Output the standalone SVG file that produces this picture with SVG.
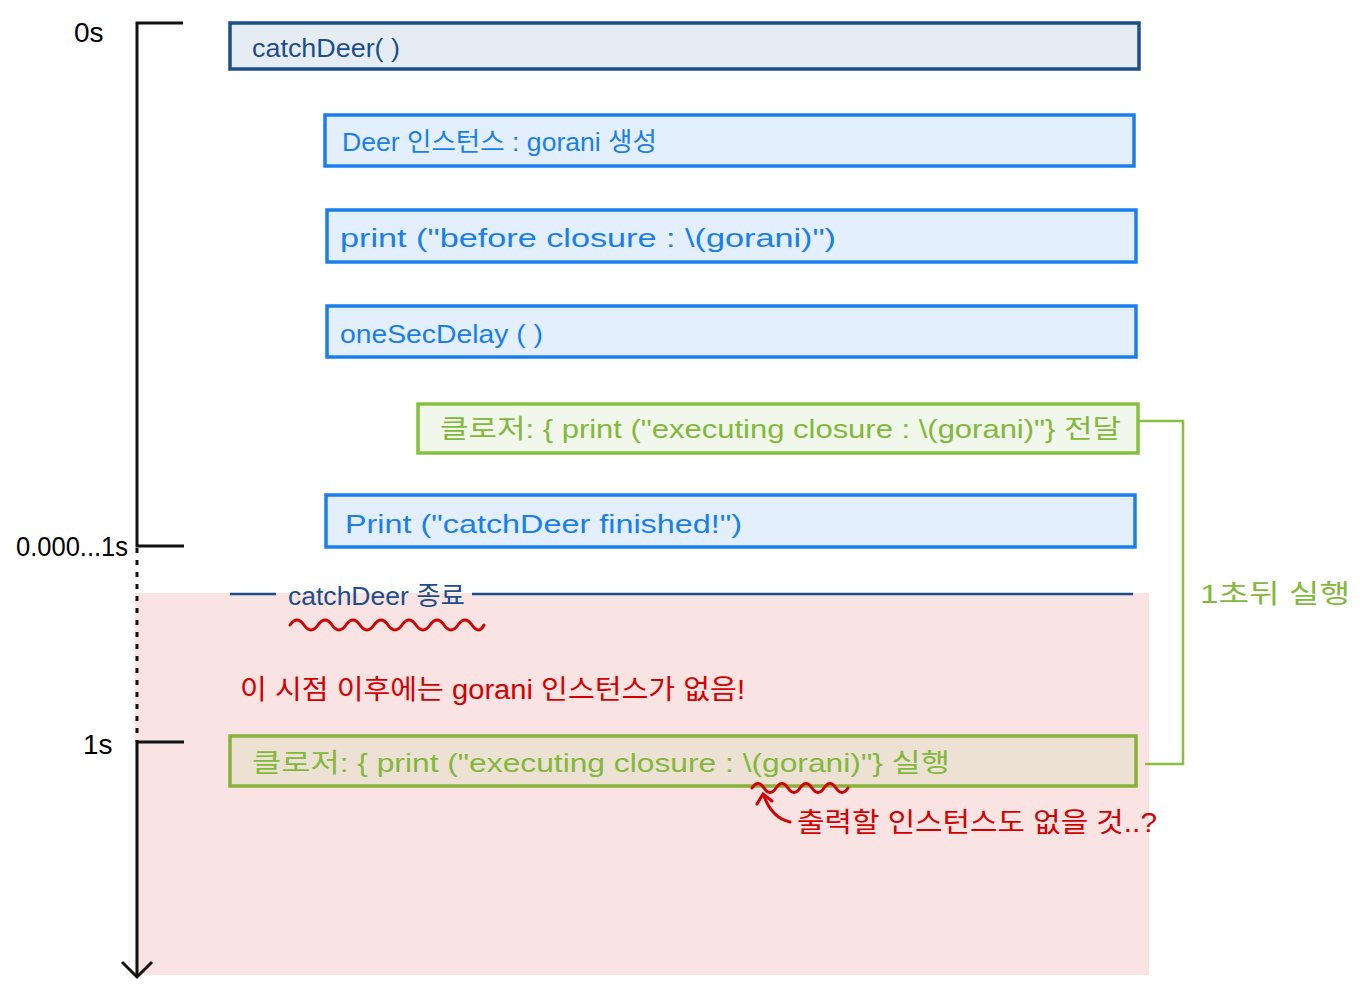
<svg xmlns="http://www.w3.org/2000/svg" width="1360" height="1000" viewBox="0 0 1360 1000">
<defs>
<style>
text{font-family:"Liberation Sans","Noto Sans CJK KR",sans-serif;}
.dk{fill:#e6ecf4;stroke:#1d4e89;stroke-width:3.5;}
.bl{fill:#e3effc;stroke:#1a7fec;stroke-width:3.5;}
.gr{fill:#f1f7ea;stroke:#86c03f;stroke-width:3.5;}
.gr2{fill:#ede1d4;stroke:#88b23a;stroke-width:3.5;}
.tdk{fill:#1d4e89;font-size:26px;}
.tbl{fill:#1a7fec;font-size:26px;}
.tgr{fill:#82b83c;font-size:26px;}
.trd{fill:#d40000;font-size:27px;}
.tax{fill:#000;font-size:28px;}
.axis{stroke:#111;stroke-width:3;fill:none;}
.sq{fill:none;stroke:#d40000;stroke-width:3;stroke-linecap:round;}
.con{fill:none;stroke:#86c03f;stroke-width:2.5;}
</style>
</defs>
<rect x="135" y="593" width="1014" height="382" fill="#f9e3e3"/>
<g id="axis">
<path class="axis" d="M183 23 H137 V546 H184"/>
<path class="axis" d="M137 548 V742" stroke-dasharray="5 7"/>
<path class="axis" d="M184 742 H137 V976"/>
<path class="axis" d="M122 962 L137 977 L152 962"/>
<text class="tax" x="74" y="42" font-size="32">0s</text>
<text class="tax" x="16" y="556" font-size="25" textLength="112" lengthAdjust="spacingAndGlyphs">0.000...1s</text>
<text class="tax" x="83" y="754" font-size="25">1s</text>
</g>
<g id="n1"><rect class="dk" x="230" y="23" width="909" height="46"/><text class="tdk" x="252" y="57" textLength="148" lengthAdjust="spacingAndGlyphs">catchDeer( )</text></g>
<g id="n2"><rect class="bl" x="325" y="115" width="809" height="51"/><text class="tbl" x="342" y="151" textLength="315" lengthAdjust="spacingAndGlyphs">Deer 인스턴스 : gorani 생성</text></g>
<g id="n3"><rect class="bl" x="327" y="210" width="809" height="52"/><text class="tbl" x="340" y="247" textLength="496" lengthAdjust="spacingAndGlyphs">print ("before closure : \(gorani)")</text></g>
<g id="n4"><rect class="bl" x="327" y="306" width="809" height="51"/><text class="tbl" x="340" y="343" textLength="203" lengthAdjust="spacingAndGlyphs">oneSecDelay ( )</text></g>
<g id="n5"><rect class="gr" x="418" y="404" width="720" height="49"/><text class="tgr" x="440" y="438" textLength="681" lengthAdjust="spacingAndGlyphs">클로저: { print ("executing closure : \(gorani)"} 전달</text></g>
<g id="n6"><rect class="bl" x="326" y="495" width="809" height="52"/><text class="tbl" x="345" y="533" font-size="30" textLength="397" lengthAdjust="spacingAndGlyphs">Print ("catchDeer finished!")</text></g>
<g id="end">
<path d="M230 594 H276 M472 594 H1133" stroke="#1d4e89" stroke-width="2.5"/>
<text class="tdk" x="288" y="605" textLength="177" lengthAdjust="spacingAndGlyphs">catchDeer 종료</text>
<path class="sq" d="M290 625 q7 -10 14 0 t14 0 t14 0 t14 0 t14 0 t14 0 t14 0 t14 0 t14 0 t14 0 t14 0 t14 0 t14 0 t12 0"/>
</g>
<g id="note1"><text class="trd" x="240" y="699" textLength="505" lengthAdjust="spacingAndGlyphs">이 시점 이후에는 gorani 인스턴스가 없음!</text></g>
<g id="n7"><rect class="gr2" x="230" y="736" width="906" height="50"/><text class="tgr" x="252" y="772" textLength="698" lengthAdjust="spacingAndGlyphs">클로저: { print ("executing closure : \(gorani)"} 실행</text>
<path class="sq" stroke-width="2.5" d="M752 788 q6 -9 12 0 t12 0 t12 0 t12 0 t12 0 t12 0 t12 0 t12 0"/>
</g>
<g id="note2">
<path class="sq" stroke-width="2" d="M790 822 Q772 818 764 796"/>
<path class="sq" stroke-width="2" d="M757 804 L763 794 L772 801"/>
<text class="trd" x="797" y="832" textLength="360" lengthAdjust="spacingAndGlyphs">출력할 인스턴스도 없을 것..?</text>
</g>
<g id="connectors">
<path class="con" d="M1138 421 H1183 V764 H1145"/>
<text class="tgr" x="1200" y="603" font-size="28" textLength="150" lengthAdjust="spacingAndGlyphs">1초뒤 실행</text>
</g>
</svg>
